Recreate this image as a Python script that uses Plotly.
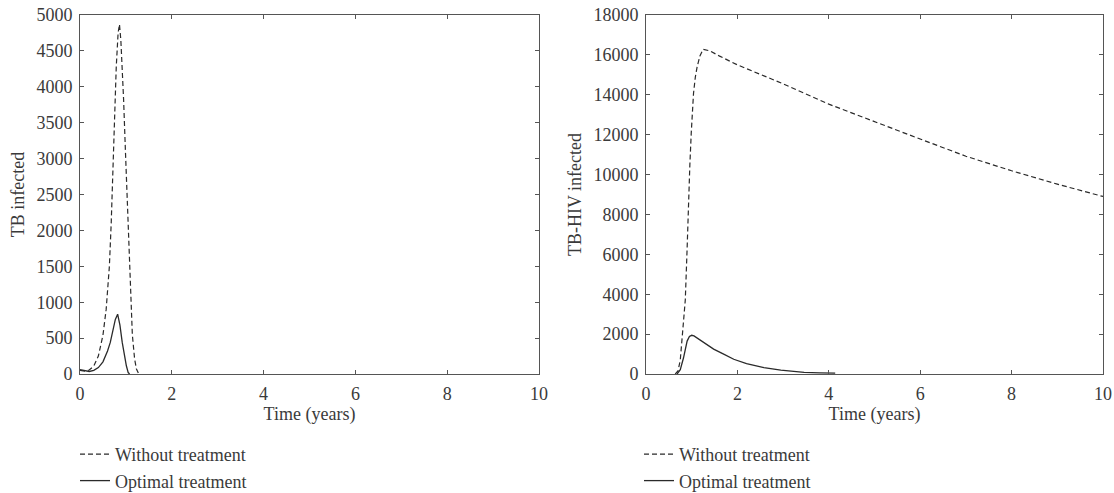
import plotly.graph_objects as go

# ---- Data ----
# Left panel: TB infected
tb_without_x = [0, 0.1, 0.2, 0.3, 0.4, 0.5, 0.57, 0.64, 0.68, 0.72, 0.76, 0.79, 0.83, 0.86,
                0.89, 0.92, 0.95, 0.99, 1.03, 1.07, 1.10, 1.14, 1.19, 1.23, 1.28]
tb_without_y = [50, 40, 55, 110, 250, 540, 900, 1500, 2100, 2890, 3700, 4280, 4750, 4870,
                4650, 4250, 3820, 3100, 2430, 1650, 1040, 550, 208, 70, 0]
tb_optimal_x = [0, 0.1, 0.2, 0.3, 0.4, 0.5, 0.6, 0.66, 0.72, 0.77, 0.82, 0.87, 0.92, 0.97,
                1.01, 1.05, 1.08]
tb_optimal_y = [60, 45, 35, 50, 90, 170, 320, 440, 600, 760, 833, 680, 440, 230,
                115, 20, 0]

# Right panel: TB-HIV infected
hiv_without_x = [0.64, 0.7, 0.75, 0.8, 0.86, 0.9, 0.93, 0.96, 0.99, 1.04, 1.08, 1.12, 1.18,
                 1.25, 1.4, 1.6, 2, 3, 4, 5, 6, 7, 8, 9, 10]
hiv_without_y = [0, 150, 700, 1900, 3720, 6300, 8730, 10500, 12080, 14080, 14900, 15410, 15950,
                 16280, 16200, 15950, 15500, 14550, 13530, 12640, 11780, 10920, 10190, 9520, 8900]
hiv_optimal_x = [0.68, 0.75, 0.82, 0.86, 0.9, 0.95, 1.0, 1.05, 1.15, 1.3, 1.48, 1.7, 1.92,
                 2.2, 2.58, 2.95, 3.2, 3.46, 3.8, 4.14]
hiv_optimal_y = [0, 215, 800, 1300, 1650, 1880, 1940, 1910, 1760, 1560, 1250, 1000, 740,
                 520, 320, 190, 130, 85, 55, 40]

series_names = ["Without treatment", "Optimal treatment"]
x_ticks = [0, 2, 4, 6, 8, 10]
left_y_ticks = [0, 500, 1000, 1500, 2000, 2500, 3000, 3500, 4000, 4500, 5000]
right_y_ticks = [0, 2000, 4000, 6000, 8000, 10000, 12000, 14000, 16000, 18000]

FONT = "Liberation Serif"
FS = 18
TXT = "#3a3a3a"
LINE = "#2a2a2a"
AX = "#555555"

fig = go.Figure()

fig.add_trace(go.Scatter(x=tb_without_x, y=tb_without_y, mode="lines", name=series_names[0],
                         line=dict(color=LINE, width=1.2, dash="5px,3px"),
                         xaxis="x", yaxis="y", legend="legend"))
fig.add_trace(go.Scatter(x=tb_optimal_x, y=tb_optimal_y, mode="lines", name=series_names[1],
                         line=dict(color=LINE, width=1.3),
                         xaxis="x", yaxis="y", legend="legend"))
fig.add_trace(go.Scatter(x=hiv_without_x, y=hiv_without_y, mode="lines", name=series_names[0],
                         line=dict(color=LINE, width=1.2, dash="5px,3px"),
                         xaxis="x2", yaxis="y2", legend="legend2"))
fig.add_trace(go.Scatter(x=hiv_optimal_x, y=hiv_optimal_y, mode="lines", name=series_names[1],
                         line=dict(color=LINE, width=1.3),
                         xaxis="x2", yaxis="y2", legend="legend2"))

axis_common = dict(showgrid=False, zeroline=False, showline=True, linecolor=AX, linewidth=1,
                   mirror="allticks", ticks="inside", ticklen=4, tickcolor=AX, tickwidth=1,
                   ticklabelstandoff=3, automargin=False,
                   tickfont=dict(family=FONT, size=FS, color=TXT))

y0, y1 = 1 - 374 / 493, 1 - 15 / 493
title_font = dict(family=FONT, size=FS, color=TXT)
legend_font = dict(family=FONT, size=18, color=TXT)

fig.update_layout(
    width=1114, height=493,
    margin=dict(l=0, r=0, t=0, b=0, autoexpand=False),
    paper_bgcolor="white", plot_bgcolor="white",
    font=dict(family=FONT, size=FS, color=TXT),
    xaxis=dict(domain=[80 / 1114, 539 / 1114], range=[0, 10], tickvals=x_ticks,
               ticktext=[str(v) for v in x_ticks],
               title=dict(text="Time (years)", font=title_font, standoff=1),
               anchor="y", **axis_common),
    yaxis=dict(domain=[y0, y1], range=[0, 5000], tickvals=left_y_ticks,
               ticktext=[str(v) for v in left_y_ticks],
               title=dict(text="TB infected", font=title_font, standoff=7),
               anchor="x", **axis_common),
    xaxis2=dict(domain=[646 / 1114, 1103 / 1114], range=[0, 10], tickvals=x_ticks,
                ticktext=[str(v) for v in x_ticks],
                title=dict(text="Time (years)", font=title_font, standoff=1),
                anchor="y2", **axis_common),
    yaxis2=dict(domain=[y0, y1], range=[0, 18000], tickvals=right_y_ticks,
                ticktext=[str(v) for v in right_y_ticks],
                title=dict(text="TB-HIV infected", font=title_font, standoff=7),
                anchor="x2", **axis_common),
    legend=dict(x=75 / 1114, y=1 - 436 / 493, xanchor="left", yanchor="top",
                bgcolor="rgba(0,0,0,0)", font=legend_font,
                tracegroupgap=0, itemwidth=30),
    legend2=dict(x=639 / 1114, y=1 - 436 / 493, xanchor="left", yanchor="top",
                 bgcolor="rgba(0,0,0,0)", font=legend_font,
                 tracegroupgap=0, itemwidth=30),
    showlegend=True,
)

fig.write_html("out.html")
